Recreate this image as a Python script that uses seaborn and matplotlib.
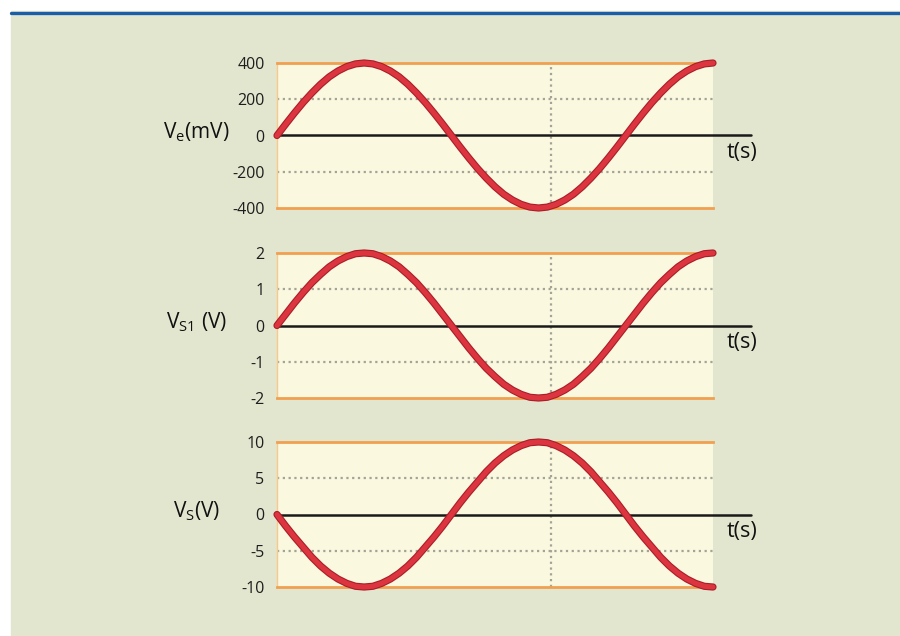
import seaborn as sns
import matplotlib.pyplot as plt
import matplotlib.patheffects as pe
from matplotlib.patches import Rectangle
from matplotlib.lines import Line2D

# Data (time steps, signals)
t = [0, 1, 2, 3, 4, 5, 6, 7, 8, 9, 10, 11, 12, 13, 14, 15, 16, 17, 18, 19, 20,
     21, 22, 23, 24, 25, 26, 27, 28, 29, 30, 31, 32, 33, 34, 35, 36, 37, 38, 39, 40,
     41, 42, 43, 44, 45, 46, 47, 48, 49, 50]
ve_mv = [0, 63, 124, 182, 235, 283, 324, 356, 380, 395, 400,
         395, 380, 356, 324, 283, 235, 182, 124, 63, 0,
         -63, -124, -182, -235, -283, -324, -356, -380, -395, -400,
         -395, -380, -356, -324, -283, -235, -182, -124, -63, 0,
         63, 124, 182, 235, 283, 324, 356, 380, 395, 400]
vs1_v = [0, 0.31, 0.62, 0.91, 1.18, 1.41, 1.62, 1.78, 1.90, 1.98, 2.0,
         1.98, 1.90, 1.78, 1.62, 1.41, 1.18, 0.91, 0.62, 0.31, 0,
         -0.31, -0.62, -0.91, -1.18, -1.41, -1.62, -1.78, -1.90, -1.98, -2.0,
         -1.98, -1.90, -1.78, -1.62, -1.41, -1.18, -0.91, -0.62, -0.31, 0,
         0.31, 0.62, 0.91, 1.18, 1.41, 1.62, 1.78, 1.90, 1.98, 2.0]
vs_v = [0, -1.6, -3.1, -4.5, -5.9, -7.1, -8.1, -8.9, -9.5, -9.9, -10.0,
        -9.9, -9.5, -8.9, -8.1, -7.1, -5.9, -4.5, -3.1, -1.6, 0,
        1.6, 3.1, 4.5, 5.9, 7.1, 8.1, 8.9, 9.5, 9.9, 10.0,
        9.9, 9.5, 8.9, 8.1, 7.1, 5.9, 4.5, 3.1, 1.6, 0,
        -1.6, -3.1, -4.5, -5.9, -7.1, -8.1, -8.9, -9.5, -9.9, -10.0]

panels = [
    (ve_mv, [-400, -200, 0, 200, 400], ['-400', '-200', '0', '200', '400'], r'V$_{\mathrm{e}}$(mV)'),
    (vs1_v, [-2, -1, 0, 1, 2], ['-2', '-1', '0', '1', '2'], r'V$_{\mathrm{S1}}$ (V)'),
    (vs_v, [-10, -5, 0, 5, 10], ['-10', '-5', '0', '5', '10'], r'V$_{\mathrm{S}}$(V)'),
]

sns.set_style('white')
plt.rcParams['font.family'] = ['Open Sans', 'DejaVu Sans']
plt.rcParams['mathtext.fontset'] = 'custom'
plt.rcParams['mathtext.rm'] = 'Open Sans'

fig = plt.figure(figsize=(9, 6.36), dpi=100, facecolor='white')
# greenish panel background and blue header rule
fig.add_artist(Rectangle((11 / 900, 0), 1, 1 - 11 / 636, transform=fig.transFigure,
                         color='#e3e6cf', zorder=-10))
fig.add_artist(Line2D([11 / 900, 1], [1 - 12.5 / 636] * 2, transform=fig.transFigure,
                      color='#1b5ea8', lw=2.4))

bottoms = [1 - 208 / 636, 1 - 398 / 636, 1 - 587 / 636]
for (vals, ticks, labels, ylab), b in zip(panels, bottoms):
    ax = fig.add_axes([277 / 900, b, 436 / 900, 145 / 636])
    ax.set_facecolor('#fbf8e0')
    lim = ticks[-1]
    ax.set_xlim(t[0], t[-1])
    ax.set_ylim(-lim, lim)

    # dotted grid
    for yy in (ticks[1], ticks[3]):
        ax.axhline(yy, color='#a3a396', lw=1.6, ls=(0, (1, 1.6)), zorder=1)
    ax.plot([0.629, 0.629], [0, 1], transform=ax.transAxes, color='#a3a396', lw=1.6,
            ls=(0, (1, 1.6)), zorder=1)
    # zero axis extending to the right
    ax.plot([0, 1.087], [0.5, 0.5], transform=ax.transAxes, color='#1a1a1a', lw=1.8,
            clip_on=False, zorder=2)

    sns.lineplot(x=t, y=vals, ax=ax, color='#dc3540', lw=3.6, sort=False,
                 clip_on=False, zorder=5, solid_capstyle='round', solid_joinstyle='round',
                 path_effects=[pe.Stroke(linewidth=5.2, foreground='#a81e28'), pe.Normal()])

    for side in ('top', 'bottom'):
        ax.spines[side].set_color('#f0a050')
        ax.spines[side].set_linewidth(2)
    ax.spines['left'].set_color('#f6c98e')
    ax.spines['left'].set_linewidth(1)
    ax.spines['right'].set_visible(False)

    ax.set_xticks([])
    ax.set_yticks(ticks)
    ax.set_yticklabels(labels)
    ax.tick_params(axis='y', length=0, pad=9, labelsize=11.5, labelcolor='#1e1e1e')
    ax.set_xlabel('')
    ax.set_ylabel('')

    ax.text(1.066, 0.38, 't(s)', transform=ax.transAxes, fontsize=15.5,
            ha='center', va='center', color='#111111')
    ax.text(-0.185, 0.52, ylab, transform=ax.transAxes, fontsize=15,
            ha='center', va='center', color='#111111')

fig.savefig('out.png', dpi=100, facecolor=fig.get_facecolor())
